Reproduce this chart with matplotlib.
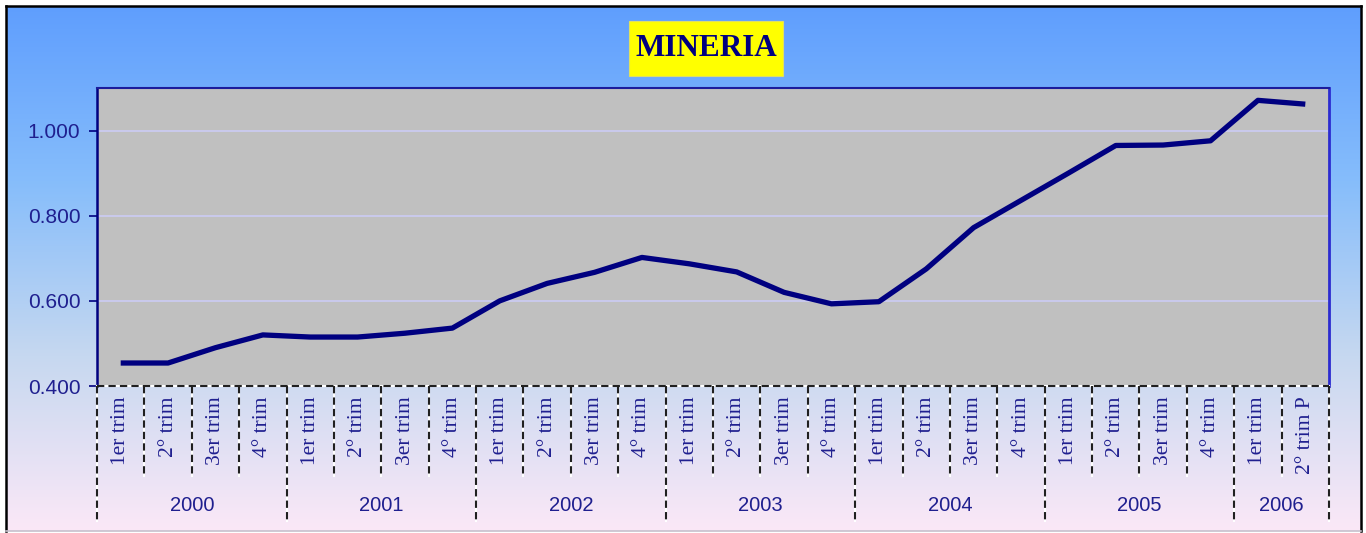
import numpy as np
import matplotlib.pyplot as plt
from matplotlib.colors import LinearSegmentedColormap
from matplotlib.patches import Rectangle

# Data (index, thousands)
years = ["2000", "2001", "2002", "2003", "2004", "2005", "2006"]
quarters_per_year = [4, 4, 4, 4, 4, 4, 2]
quarter_labels = ["1er trim", "2° trim", "3er trim", "4° trim"] * 6 + ["1er trim", "2° trim P"]
values = [0.454, 0.454, 0.490, 0.520, 0.515, 0.515, 0.524, 0.536,
          0.600, 0.641, 0.667, 0.702, 0.687, 0.668, 0.620, 0.593,
          0.598, 0.675, 0.772, 0.836, 0.900, 0.965, 0.966, 0.976,
          1.071, 1.062]

W, H = 1366, 533
NAVY = "#000080"
TXT = "#1f1f8f"

fig = plt.figure(figsize=(W / 100, H / 100), dpi=100)
fig.patch.set_facecolor("white")


def fx(px):
    return px / W


def fy(py):
    return 1 - py / H


# Gradient background (blue at top to pale pink at bottom)
bg = fig.add_axes([fx(6), fy(531), fx(1361) - fx(6), fy(6) - fy(531)], zorder=0)
cmap = LinearSegmentedColormap.from_list(
    "bg", ["#5f9efe", "#86bdfb", "#c6d8f0", "#fbe8f7"])
grad = np.linspace(0, 1, 256).reshape(-1, 1)
bg.imshow(grad, aspect="auto", cmap=cmap, extent=[0, 1, 0, 1], origin="upper")
bg.set_xlim(0, 1)
bg.set_ylim(0, 1)
bg.set_xticks([])
bg.set_yticks([])
for side in ("left", "top", "right"):
    bg.spines[side].set_color("black")
    bg.spines[side].set_linewidth(1.8)
bg.spines["bottom"].set_color("#c8c0cc")
bg.spines["bottom"].set_linewidth(1.2)

# Plot area
ax = fig.add_axes([fx(97), fy(386), fx(1329) - fx(97), fy(88) - fy(386)], zorder=2)
ax.set_facecolor("#c0c0c0")
x = np.arange(len(values))
ax.plot(x, values, color=NAVY, linewidth=3.8, solid_joinstyle="round",
        solid_capstyle="butt", zorder=3)

ax.set_xlim(-0.5, len(values) - 0.5)
ax.set_ylim(0.4, 1.1)
ax.set_yticks([0.4, 0.6, 0.8, 1.0])
ax.set_yticklabels(["0.400", "0.600", "0.800", "1.000"])
ax.yaxis.grid(True, color="#ccccf4", linewidth=1.2)
ax.set_axisbelow(True)
ax.tick_params(axis="y", colors=NAVY, length=6, width=1.2, pad=6,
               labelcolor=TXT, labelsize=15)
for lab in ax.get_yticklabels():
    lab.set_family("Liberation Sans")
ax.set_xticks([])
ax.spines["left"].set_color(NAVY)
ax.spines["left"].set_linewidth(1.8)
ax.spines["top"].set_color("#1c1c9c")
ax.spines["top"].set_linewidth(1.5)
ax.spines["right"].set_color("#2b2bd0")
ax.spines["right"].set_linewidth(2.0)
ax.spines["bottom"].set_visible(False)

# Two-level category axis with dashed separators
tr = ax.get_xaxis_transform()
ax.plot([-0.5, len(values) - 0.5], [0, 0], transform=tr, color="white",
        lw=1.5, clip_on=False, zorder=4)
ax.plot([-0.5, len(values) - 0.5], [0, 0], transform=tr, color="#202020",
        lw=1.5, ls=(0, (3.5, 2)), clip_on=False, zorder=5)

year_edges = np.concatenate([[0], np.cumsum(quarters_per_year)]) - 0.5
for b in np.arange(len(values) + 1) - 0.5:
    bottom = -0.452 if b in year_edges else -0.302
    ax.plot([b, b], [0, bottom], transform=tr, color="white", lw=1.5,
            clip_on=False, zorder=4)
    ax.plot([b, b], [0, bottom], transform=tr, color="#202020", lw=1.5,
            ls=(0, (3.5, 2)), clip_on=False, zorder=5)

for i, q in enumerate(quarter_labels):
    ax.text(i, -0.035, q, transform=tr, rotation=90, ha="center", va="top",
            color=TXT, fontsize=15.5, family="Liberation Serif")

for y0, y1, yr in zip(year_edges[:-1], year_edges[1:], years):
    ax.text((y0 + y1) / 2, -0.40, yr, transform=tr, ha="center", va="center",
            color=TXT, fontsize=14.5, family="Liberation Sans")

# Title in a yellow box
fig.patches.append(Rectangle((fx(629), fy(76)), fx(783) - fx(629), fy(21) - fy(76),
                             transform=fig.transFigure, facecolor="#ffff00",
                             edgecolor="#e0e060", lw=0.8, zorder=3))
fig.text(fx(706), fy(49), "MINERIA", ha="center", va="center", color=NAVY,
         fontsize=22.5, fontweight="bold", family="Liberation Serif", zorder=4)

fig.savefig("out.png", dpi=100)
